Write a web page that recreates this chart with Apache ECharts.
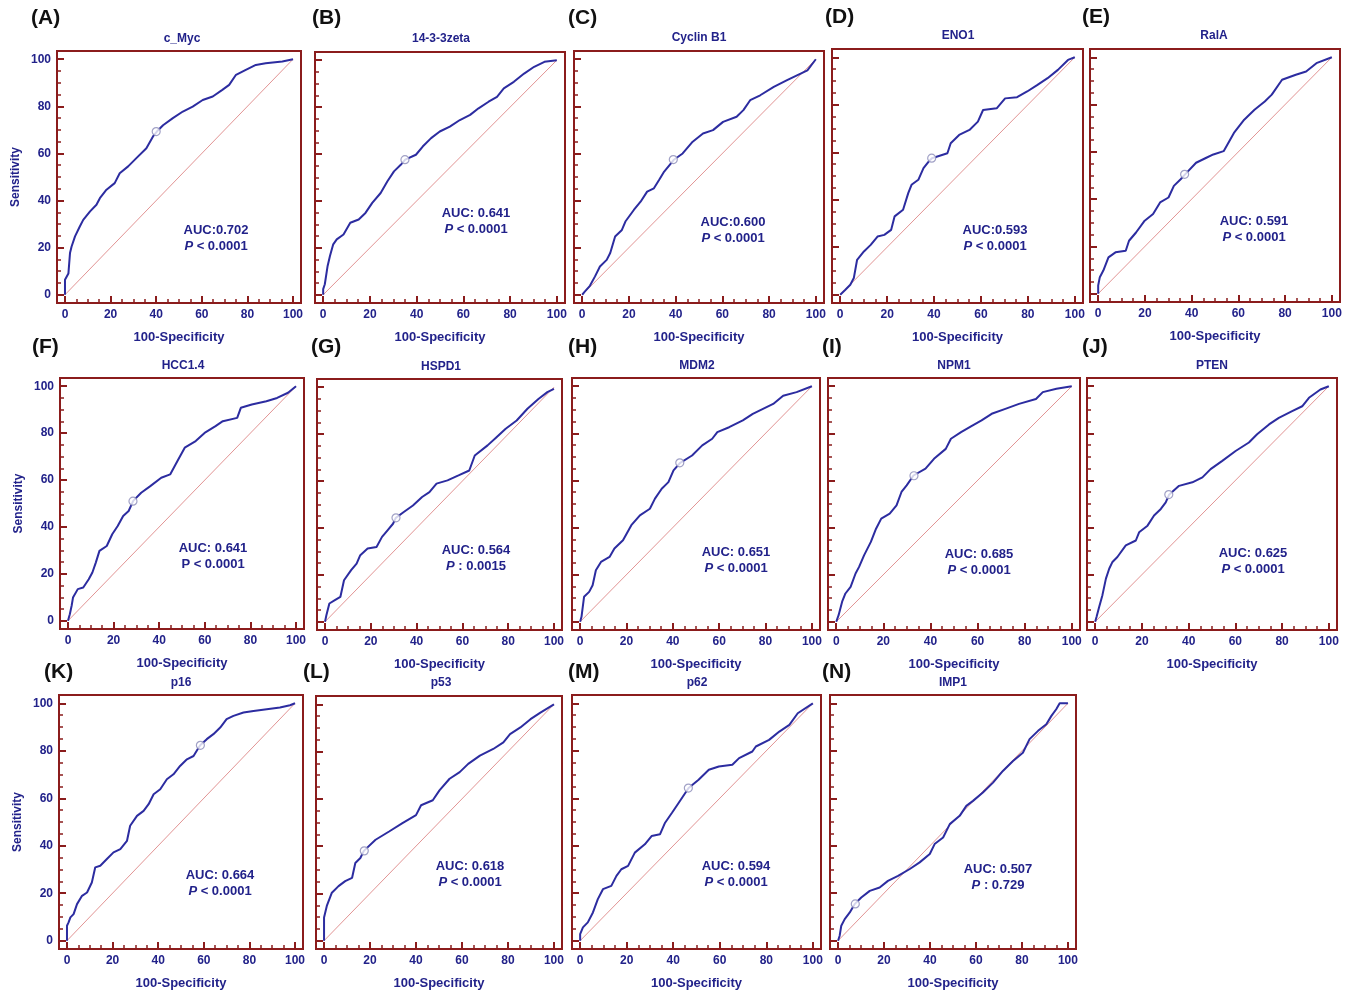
<!DOCTYPE html>
<html>
<head>
<meta charset="utf-8">
<script src="https://cdn.jsdelivr.net/npm/echarts@6/dist/echarts.min.js"></script>
<style>html,body{margin:0;padding:0;background:#fff}#c{width:1348px;height:991px}</style>
</head>
<body>
<div id="c"></div>
<script>
// ---------- data (100-Specificity, Sensitivity) ----------
const panelLetters = ['(A)','(B)','(C)','(D)','(E)','(F)','(G)','(H)','(I)','(J)','(K)','(L)','(M)','(N)'];
const panelTitles = ['c_Myc','14-3-3zeta','Cyclin B1','ENO1','RalA','HCC1.4','HSPD1','MDM2','NPM1','PTEN','p16','p53','p62','IMP1'];
const aucLabels = ['AUC:0.702','AUC: 0.641','AUC:0.600','AUC:0.593','AUC: 0.591','AUC: 0.641','AUC: 0.564','AUC: 0.651','AUC: 0.685','AUC: 0.625','AUC: 0.664','AUC: 0.618','AUC: 0.594','AUC: 0.507'];
const pLabels = [' < 0.0001',' < 0.0001',' < 0.0001',' < 0.0001',' < 0.0001',' < 0.0001',' : 0.0015',' < 0.0001',' < 0.0001',' < 0.0001',' < 0.0001',' < 0.0001',' < 0.0001',' : 0.729'];
const pItalic = [true,true,true,true,true,false,true,true,true,true,true,true,true,true];
const xTicks = [0,20,40,60,80,100];
const yTicks = [0,20,40,60,80,100];
const minorTicks = [0,5,10,15,20,25,30,35,40,45,50,55,60,65,70,75,80,85,90,95,100];

const cMycX = [0,0,1.5,2.2,2.9,4.4,6.5,8,11,13.8,15.3,18.2,21.8,24,27.7,31.3,35.7,38.6,40.3,43,47.3,51.7,56,60.4,64.8,69,72,75,79.3,83.7,88,95.3,100];
const cMycY = [0,6.4,9,17.7,20.5,24.8,29,31.8,35.4,38.2,41,44.6,47.4,51.6,54.5,58,62.2,67.2,69.3,72,75,77.8,79.9,82.7,84.2,87,89.1,93.4,95.5,97.6,98.3,99,100];
const zetaX = [0,0,0.7,1.9,2.9,4.3,5.8,8.7,11.6,15.2,18.1,21,24.6,27.5,30.3,33.2,35.1,39.7,42.6,46.2,49.9,54.2,58.5,62.9,66.5,70.8,74.4,77.3,81.6,86,90.3,94.7,100];
const zetaY = [0,2.4,4.5,12.3,16.5,21.5,23.6,25.7,30.7,32.1,34.9,39.2,43.4,48.4,52.6,55.4,57.6,59.7,63.2,66.8,69.6,71.7,74.5,76.7,79.5,82.3,84.4,88,90.8,94.3,97.2,99.3,100];
const cycX = [0,1.2,3.3,5.5,7.6,10.5,12,14.1,17,18.5,22.1,25,27.8,30.7,32.9,35.1,38,39.1,43,47.3,51.7,56,60.3,66.1,69,71.9,76.2,82,87.7,93.5,96.4,100];
const cycY = [0,1.4,3.8,7.8,12,14.8,17.7,24.7,27.5,31.1,36,39.5,43.8,45.2,48.7,52.3,55.8,57.2,60,65,68.5,69.9,73.4,75.6,78.4,82.6,84.7,88.3,91.1,93.9,95.3,100];
const enoX = [0,2.2,4.3,5.8,7.2,10.1,13,15.9,18.8,21.7,23.2,26.8,29,30.4,33.3,35.5,37.7,39.1,45.7,47.1,50.7,55.1,58.7,60.9,66.7,70.3,75.4,79.7,84.1,88.4,92.8,97.1,100];
const enoY = [0,2.1,4.2,7,14.7,18.2,21,24.5,25.2,27.3,33,35.8,42.8,46.3,48.4,53.3,56.1,57.5,59.6,63.8,67.3,69.4,72.9,77.8,78.5,82.7,83.2,85.6,88.4,91.2,94.7,98.9,100];
const ralX = [0,0,0.7,2.2,4.4,7.4,11.8,13.2,16.2,19.9,23.5,26.5,30.1,32.4,35.3,37.2,41.9,46.3,49.3,53.7,58.1,62.5,66.9,71.3,74.3,78.7,84.6,89,93.4,100];
const ralY = [0,3.5,7,9.8,15.4,17.5,18.2,22.4,25.9,30.9,33.7,38.6,40.7,45.6,48.4,50.5,55.4,57.5,58.9,60.3,68,73.6,77.8,81.3,84.2,90.5,92.6,94,97.5,100];
const hccX = [0,0.8,1.6,2.2,4.3,6.7,9.1,10.7,12.2,13.8,17,19.4,21.8,24.2,26.6,28.6,32.1,36.1,40.9,44.8,48,51.2,56,59.9,64.7,67.9,74.2,75.8,80.6,87,91.7,96.5,100];
const hccY = [0,2.8,6.4,9.9,13.5,14.2,17.7,20.6,24.8,29.8,31.9,36.9,40.4,44.7,46.8,51.1,54.6,57.4,61,62.4,68.1,73.8,76.6,80.1,83,85.1,86.5,90.8,92.2,93.6,95,97.2,100];
const hspX = [0,0.6,1.9,4.3,6.7,8.3,11.4,13.8,15.4,18.6,22.5,24.9,27.3,29.7,30.9,34.4,38.4,42.4,45.6,48.7,53.5,58.3,63,65.4,71,74.9,78.9,83.7,88.4,93.2,97.1,100];
const hspY = [0,2.8,7.8,9.2,10.6,17.7,22,24.8,28.4,31.2,31.9,36.2,39,41.8,44.3,46.8,49.6,53.2,55.3,58.9,60.3,62.4,64.5,70.9,75.2,78.7,82.3,85.8,90.8,95,97.9,99.3];
const mdmX = [0,0.6,1.7,3.9,5.4,6.8,9,12.7,14.8,18.5,22.1,25.8,30.1,32.3,35.2,38.1,40.3,43.2,48.3,52.7,57,59.2,64.3,70.2,74.5,78.9,83.3,87.6,93.4,100];
const mdmY = [0,2.1,10.6,12.7,15.5,21.9,25.4,27.5,31.1,34.6,41,45.2,48,52.3,56.5,59.3,64.3,67.5,70.6,74.9,77.7,80.5,82.6,85.5,88.3,90.4,92.5,96,97.5,100];
const npmX = [0,1,2.5,3.9,6.1,8.2,9.7,11.8,14.7,16.9,19.1,22.7,25.6,27.7,29.9,32.8,37.9,41.5,46.5,48.7,53,57.4,61.7,66,71.8,77.6,84.8,87.7,93.5,100];
const npmY = [0,2.8,8.5,12,14.8,20.5,23.3,28.2,33.9,39.5,43.8,45.9,49.4,55.1,57.9,62.1,65,69.2,73.4,77.7,80.5,83.1,85.5,88.3,90.4,92.5,94.6,97.5,98.9,100];
const ptenX = [0,0.6,1.7,3.1,4.6,6,7.4,9.5,13.1,17.4,18.8,22.4,25.2,28.1,30.2,31.6,35.9,41.6,45.9,49.4,54.4,60.1,65.8,69.3,74.4,78.6,84.3,88.6,91.5,96.4,100];
const ptenY = [0,2.1,6.3,11.3,18.3,22.5,25.4,27.5,32.4,34.5,38,40.8,45.1,47.9,50.7,53.9,57.7,59.2,61.3,64.8,68.3,72.5,76.1,79.6,83.8,86.6,89.4,91.5,95.1,98.6,100];
const p16X = [0,0,0.7,1.5,2.9,4.4,6.6,8.8,10.9,12.4,14.6,17.5,20.4,23.4,26.3,27.7,30.7,33.6,35.8,38,40.9,43.8,46.7,49.6,52.6,55.5,57.7,58.4,61.3,64.2,67.2,70,73,77.4,81.8,87.6,93.4,97.8,100];
const p16Y = [0,6.3,7.7,9.8,11.2,15.4,18.9,20.3,24.5,30.9,31.6,34.4,37.2,38.6,42,48.4,52.6,54.7,57.5,61.7,63.8,68,70.1,73.6,76.4,77.8,81.3,82.3,84.9,87,89.8,93.3,94.7,96.1,96.8,97.5,98.2,99.2,100];
const p53X = [0,0,1.2,3.4,6.3,9.2,12.2,13.6,15.8,17.3,22.4,28.3,34.1,40,42.2,47.3,50.2,54.6,59,62.7,67.8,73.6,78,80.9,85.4,89.8,94.1,100];
const p53Y = [0,9.8,14.7,20.3,23.1,25.2,26.6,32.9,35,38,42.7,46.2,49.7,53.1,57.3,59.4,63.6,68.5,71.3,74.8,78.3,81.1,83.9,87.4,90.2,93.7,96.5,100];
const p62X = [0,0,1.2,3.3,5.5,7.6,9.8,13.4,15.6,17.7,20.6,23.5,27.8,30.7,34.3,36.5,39.4,42.3,46.6,50.9,55.3,59.6,65.4,68.3,74,75.5,81.2,85.6,89.9,93.5,100];
const p62Y = [0,2.8,5.6,7.7,11.9,17.5,21.7,23.1,27.3,30.1,31.5,37.1,40.6,44.1,44.8,49.7,53.8,58,64.3,67.8,72,73.4,74.1,76.9,79.7,81.8,84.6,88.1,90.9,95.8,100];
const impX = [0,0.7,1.4,2.9,5.1,7.2,10.1,13.8,18.1,21.7,26.1,31.2,35.5,39.9,42,45.7,48.6,52.9,55.8,58.7,63,67.4,71.7,76.1,80.4,83.3,87,90.6,92.8,94.9,96.4,100];
const impY = [0,2.1,6.3,9.1,11.9,15.4,18.2,21,22.4,25.2,27.3,30.2,33,36.5,40.7,43.5,49.1,52.6,56.8,58.9,62.4,66.6,71.5,75.7,79.2,84.9,88.4,91.2,94.7,97.5,100,100];

const curvesX = [cMycX,zetaX,cycX,enoX,ralX,hccX,hspX,mdmX,npmX,ptenX,p16X,p53X,p62X,impX];
const curvesY = [cMycY,zetaY,cycY,enoY,ralY,hccY,hspY,mdmY,npmY,ptenY,p16Y,p53Y,p62Y,impY];
// optimal cut-off points
const cutX = [40,35,39,39,37,28.5,31,43,33,31.5,58.5,17.5,46.5,7.5];
const cutY = [69.3,57.6,57.4,57.5,50.5,51,44.3,67.5,62,54,82.3,38,64.3,15.5];

// ---------- layout (pixel frames: left, top, right, bottom) ----------
const frames = [
  [57,51,301,303],[315,52,565,303],[574,51,824,303],[832,49,1083,303],[1090,49,1340,302],
  [60,378,304,629],[317,379,562,630],[572,378,820,630],[828,378,1080,630],[1087,378,1337,630],
  [59,695,303,949],[316,696,562,950],[572,695,821,950],[830,695,1076,949]
];
const letterPos = [[31,18],[312,18],[568,18],[825,17],[1082,17],[32,347],[311,347],[568,347],[822,347],[1082,347],[44,672],[303,672],[568,672],[822,672]];
const titlePos = [[182,39],[441,39],[699,38],[958,36],[1214,36],[183,366],[441,367],[697,366],[954,366],[1212,366],[181,683],[441,683],[697,683],[953,683]];
const aucPos = [[216,230],[476,213],[733,222],[995,230],[1254,221],[213,548],[476,550],[736,552],[979,554],[1253,553],[220,875],[470,866],[736,866],[998,869]];

const NAVY = '#22228a', FRAME = '#8b1c1c', CURVE = '#2c2ca0', DIAG = '#e29494', FONT = '"Liberation Sans", Arial, sans-serif';
const AMIN = -3.5, AMAX = 103.5;

const grid = [], xAxis = [], yAxis = [], series = [], graphic = [];
frames.forEach((f, i) => {
  grid.push({left: f[0], top: f[1], width: f[2]-f[0], height: f[3]-f[1], show: true,
    borderColor: FRAME, borderWidth: 2, backgroundColor: '#fff', containLabel: false});
  const firstCol = (i === 0 || i === 5 || i === 10);
  const lbl = {show: true, color: NAVY, fontWeight: 'bold', fontSize: 12, fontFamily: FONT, margin: 6};
  const noLine = {show: false, onZero: false};
  xAxis.push({type: 'value', gridIndex: i, min: AMIN, max: AMAX, position: 'bottom',
    axisLine: noLine, splitLine: {show: false},
    axisTick: {show: true, inside: true, length: 7, customValues: xTicks, lineStyle: {color: FRAME, width: 2}},
    axisLabel: Object.assign({customValues: xTicks}, lbl),
    name: '100-Specificity', nameLocation: 'middle', nameGap: 28,
    nameTextStyle: {color: NAVY, fontWeight: 'bold', fontSize: 13, fontFamily: FONT}});
  xAxis.push({type: 'value', gridIndex: i, min: AMIN, max: AMAX, position: 'bottom',
    axisLine: noLine, splitLine: {show: false}, axisLabel: {show: false},
    axisTick: {show: true, inside: true, length: 4, customValues: minorTicks, lineStyle: {color: FRAME, width: 1.5}}});
  yAxis.push({type: 'value', gridIndex: i, min: AMIN, max: AMAX, position: 'left',
    axisLine: noLine, splitLine: {show: false},
    axisTick: {show: true, inside: true, length: 7, customValues: yTicks, lineStyle: {color: FRAME, width: 2}},
    axisLabel: Object.assign({customValues: yTicks}, lbl, {show: firstCol}),
    name: firstCol ? 'Sensitivity' : '', nameLocation: 'middle', nameGap: 35, nameRotate: 90,
    nameTextStyle: {color: NAVY, fontWeight: 'bold', fontSize: 12, fontFamily: FONT}});
  yAxis.push({type: 'value', gridIndex: i, min: AMIN, max: AMAX, position: 'left',
    axisLine: noLine, splitLine: {show: false}, axisLabel: {show: false},
    axisTick: {show: true, inside: true, length: 4, customValues: minorTicks, lineStyle: {color: FRAME, width: 1.5}}});

  series.push({type: 'line', xAxisIndex: 2*i, yAxisIndex: 2*i, data: [[0,0],[100,100]],
    showSymbol: false, silent: true, lineStyle: {color: DIAG, width: 1}, z: 2});
  series.push({type: 'line', xAxisIndex: 2*i, yAxisIndex: 2*i,
    data: curvesX[i].map((x, k) => [x, curvesY[i][k]]),
    showSymbol: false, silent: true, lineStyle: {color: CURVE, width: 2}, z: 3});
  series.push({type: 'scatter', xAxisIndex: 2*i, yAxisIndex: 2*i, data: [[cutX[i], cutY[i]]],
    symbol: 'circle', symbolSize: 8, silent: true,
    itemStyle: {color: '#ffffff', borderColor: '#8a8ab8', borderWidth: 1.2}, z: 4});

  graphic.push({type: 'text', x: letterPos[i][0], y: letterPos[i][1],
    style: {text: panelLetters[i], font: 'bold 21px ' + FONT, fill: '#111', verticalAlign: 'middle', align: 'left'}});
  graphic.push({type: 'text', x: titlePos[i][0], y: titlePos[i][1],
    style: {text: panelTitles[i], font: 'bold 12px ' + FONT, fill: NAVY, verticalAlign: 'middle', align: 'center'}});
  graphic.push({type: 'text', x: aucPos[i][0], y: aucPos[i][1],
    style: {text: aucLabels[i], font: 'bold 13px ' + FONT, fill: NAVY, verticalAlign: 'middle', align: 'center'}});
  graphic.push({type: 'text', x: aucPos[i][0], y: aucPos[i][1] + 16,
    style: {text: '{p|P}{v|' + pLabels[i] + '}', verticalAlign: 'middle', align: 'center',
      rich: {p: {font: (pItalic[i] ? 'italic ' : '') + 'bold 13px ' + FONT, fill: NAVY},
             v: {font: 'bold 13px ' + FONT, fill: NAVY}}}});
});

const chart = echarts.init(document.getElementById('c'), null, {renderer: 'canvas'});
chart.setOption({backgroundColor: '#fff', animation: false, grid, xAxis, yAxis, series, graphic});
</script>
</body>
</html>
